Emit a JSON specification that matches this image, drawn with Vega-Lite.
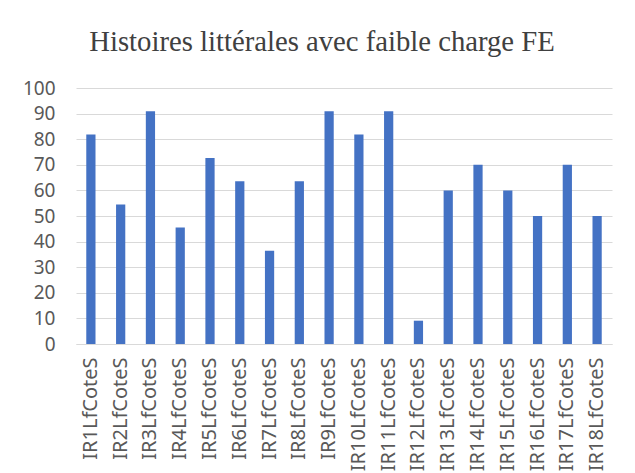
{
  "$schema": "https://vega.github.io/schema/vega-lite/v6.json",
  "width": 536,
  "height": 256,
  "autosize": {"type": "none"},
  "padding": {"left": 76, "top": 88, "right": 23, "bottom": 129},
  "background": "white",
  "title": {
    "text": "Histoires littérales avec faible charge FE",
    "font": "Liberation Serif",
    "fontSize": 28.7,
    "fontWeight": "normal",
    "color": "#404040",
    "anchor": "middle",
    "frame": "group",
    "baseline": "alphabetic",
    "offset": -1,
    "dx": -22
  },
  "data": {
    "values": [
      {"item": "IR1LfCoteS", "value": 81.8},
      {"item": "IR2LfCoteS", "value": 54.5},
      {"item": "IR3LfCoteS", "value": 90.9},
      {"item": "IR4LfCoteS", "value": 45.5},
      {"item": "IR5LfCoteS", "value": 72.7},
      {"item": "IR6LfCoteS", "value": 63.6},
      {"item": "IR7LfCoteS", "value": 36.4},
      {"item": "IR8LfCoteS", "value": 63.6},
      {"item": "IR9LfCoteS", "value": 90.9},
      {"item": "IR10LfCoteS", "value": 81.8},
      {"item": "IR11LfCoteS", "value": 90.9},
      {"item": "IR12LfCoteS", "value": 9.1},
      {"item": "IR13LfCoteS", "value": 60},
      {"item": "IR14LfCoteS", "value": 70},
      {"item": "IR15LfCoteS", "value": 60},
      {"item": "IR16LfCoteS", "value": 50},
      {"item": "IR17LfCoteS", "value": 70},
      {"item": "IR18LfCoteS", "value": 50}
    ]
  },
  "mark": {"type": "bar", "color": "#4472C4"},
  "encoding": {
    "x": {
      "field": "item",
      "type": "nominal",
      "sort": null,
      "scale": {"paddingInner": 0.69, "paddingOuter": 0.345},
      "axis": {
        "title": null,
        "labelAngle": -90,
        "labelAlign": "right",
        "labelBaseline": "middle",
        "labelFont": "Noto Sans",
        "labelFontSize": 20,
        "labelColor": "#595959",
        "labelPadding": 13,
        "ticks": false,
        "domainColor": "#d9d9d9",
        "domainWidth": 1.2,
        "labelOverlap": false
      }
    },
    "y": {
      "field": "value",
      "type": "quantitative",
      "scale": {"domain": [0, 100], "nice": false},
      "axis": {
        "title": null,
        "values": [0, 10, 20, 30, 40, 50, 60, 70, 80, 90, 100],
        "labelFont": "Noto Sans",
        "labelFontSize": 19,
        "labelColor": "#595959",
        "labelPadding": 21,
        "ticks": false,
        "domain": false,
        "gridColor": "#d9d9d9",
        "gridWidth": 1.2
      }
    }
  },
  "config": {"view": {"stroke": null}}
}
